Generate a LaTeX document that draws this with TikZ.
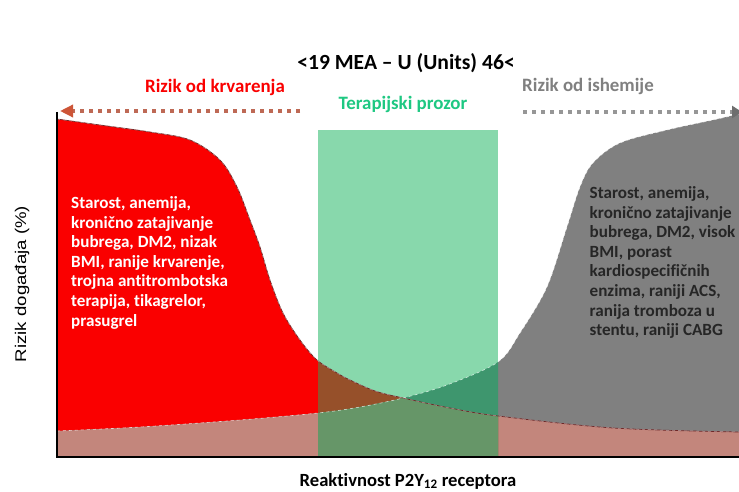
\documentclass[tikz,border=0pt]{standalone}
\usepackage{fontspec}
\usepackage{graphicx}
\setmainfont{Carlito}[Ligatures=CommonOff]
\newfontfamily\arialfont{Liberation Sans}
\usetikzlibrary{arrows.meta}
\definecolor{riskred}{RGB}{250,0,0}
\definecolor{riskgray}{RGB}{128,128,128}
\definecolor{overlapc}{RGB}{195,134,124}
\definecolor{winlight}{RGB}{136,216,172}
\definecolor{winred}{RGB}{150,80,42}
\definecolor{wingray}{RGB}{62,150,110}
\definecolor{winover}{RGB}{102,150,104}
\definecolor{titlegreen}{RGB}{30,200,130}
\definecolor{arrowred}{RGB}{190,105,85}
\definecolor{tipred}{RGB}{205,85,55}
\definecolor{arrowgray}{RGB}{150,150,150}
\definecolor{tipgray}{RGB}{110,110,110}
\definecolor{edgedark}{RGB}{110,40,40}
\newcommand\redline{plot[smooth,tension=0.55] coordinates {(57,119) (100,125) (150,132) (190,140) (220,160) (237,187) (250,220) (260,247) (270,280) (283,313) (300,340) (317,360) (337,373) (350,380) (375,391) (403,398) (450,408) (498,416) (613,428) (739,432)}}
\newcommand\grayline{plot[smooth,tension=0.55] coordinates {(57,431) (140,427) (240,420) (318,413) (360,407) (403,398) (447,385) (498,362) (520,333) (547,287) (567,227) (580,187) (593,163) (620,143) (667,130) (713,120) (739,114)}}
\newcommand\redarea{(57,457) -- plot[smooth,tension=0.55] coordinates {(57,119) (100,125) (150,132) (190,140) (220,160) (237,187) (250,220) (260,247) (270,280) (283,313) (300,340) (317,360) (337,373) (350,380) (375,391) (403,398) (450,408) (498,416) (613,428) (739,432)} -- (739,457) -- cycle}
\newcommand\grayarea{(57,457) -- plot[smooth,tension=0.55] coordinates {(57,431) (140,427) (240,420) (318,413) (360,407) (403,398) (447,385) (498,362) (520,333) (547,287) (567,227) (580,187) (593,163) (620,143) (667,130) (713,120) (739,114)} -- (739,457) -- cycle}
\tikzset{
  lbl/.style={font=\bfseries\fontsize{18.9}{22}\selectfont, inner sep=0pt},
  blocktext/.style={anchor=north west, align=left, inner sep=0pt,
    font=\bfseries\fontsize{17.1}{19.55}\selectfont},
  reddots/.style={arrowred, line width=4pt, dash pattern=on 4pt off 5pt,
    -{Triangle[width=12pt,length=13pt,color=tipred]}},
  graydots/.style={arrowgray, line width=4pt, dash pattern=on 4pt off 5pt,
    -{Triangle[width=12pt,length=10pt,color=tipgray]}},
  axis/.style={black, line width=2pt},
}
\begin{document}
\begin{tikzpicture}[x=1pt,y=-1pt]
\useasboundingbox (0,0) rectangle (739,492);
\fill[white] (0,0) rectangle (739,492);
% areas
\fill[riskred] \redarea;
\fill[riskgray] \grayarea;
\begin{scope}
  \clip \redarea;
  \fill[overlapc] \grayarea;
\end{scope}
% therapeutic window
\fill[winlight] (318,130) rectangle (498,457);
\begin{scope}
  \clip (318,130) rectangle (498,457);
  \fill[winred] \redarea;
  \fill[wingray] \grayarea;
  \begin{scope}
    \clip \redarea;
    \fill[winover] \grayarea;
  \end{scope}
\end{scope}
% curve edges
\draw[edgedark, line width=0.7pt] \redline;
\draw[white, line width=0.6pt, dashed, opacity=0.7] \grayline;
\draw[white, line width=0.5pt, dashed, opacity=0.5] \redline;
% axes
\coordinate (origin) at (57,457);
\coordinate (ytop) at (57,112);
\coordinate (xend) at (739,457);
\draw[axis] (ytop) -- (57,458);
\draw[axis, line width=2.5pt] (56,457) -- (xend);
% titles
\node[lbl, font=\bfseries\fontsize{21.6}{24}\selectfont] (title) at (406,63) {<19 MEA – U (Units) 46<};
\node[lbl, text=riskred] (bleed) at (215,87) {Rizik od krvarenja};
\node[lbl, text=titlegreen] (window) at (403,104) {Terapijski prozor};
\node[lbl, text=riskgray] (isch) at (588,86) {Rizik od ishemije};
% arrows
\coordinate (redA) at (300,111);
\coordinate (redB) at (60,111);
\draw[reddots] (redA) -- (redB);
\coordinate (grayA) at (523,112);
\coordinate (grayB) at (742,112);
\draw[graydots] (grayA) -- (grayB);
% blocks
\node[blocktext, text=white] (lefttext) at (71,196.5)
  {Starost, anemija,\\kronično zatajivanje\\bubrega, DM2, nizak\\BMI, ranije krvarenje,\\trojna antitrombotska\\terapija, tikagrelor,\\prasugrel};
\node[blocktext, text=black!85] (righttext) at (589.5,186.5)
  {Starost, anemija,\\kronično zatajivanje\\bubrega, DM2, visok\\BMI, porast\\kardiospecifičnih\\enzima, raniji ACS,\\ranija tromboza u\\stentu, raniji CABG};
% axis labels
\node[rotate=90, inner sep=0pt, font=\arialfont\fontsize{15.5}{18}\selectfont] (ylab) at (22,284) {\scalebox{1.2}[1]{Rizik događaja (\%)}};
\node[anchor=base, inner sep=0pt, font=\bfseries\fontsize{18.6}{21}\selectfont] (xlab) at (408,486) {Reaktivnost P2Y\textsubscript{12} receptora};
\end{tikzpicture}
\end{document}
